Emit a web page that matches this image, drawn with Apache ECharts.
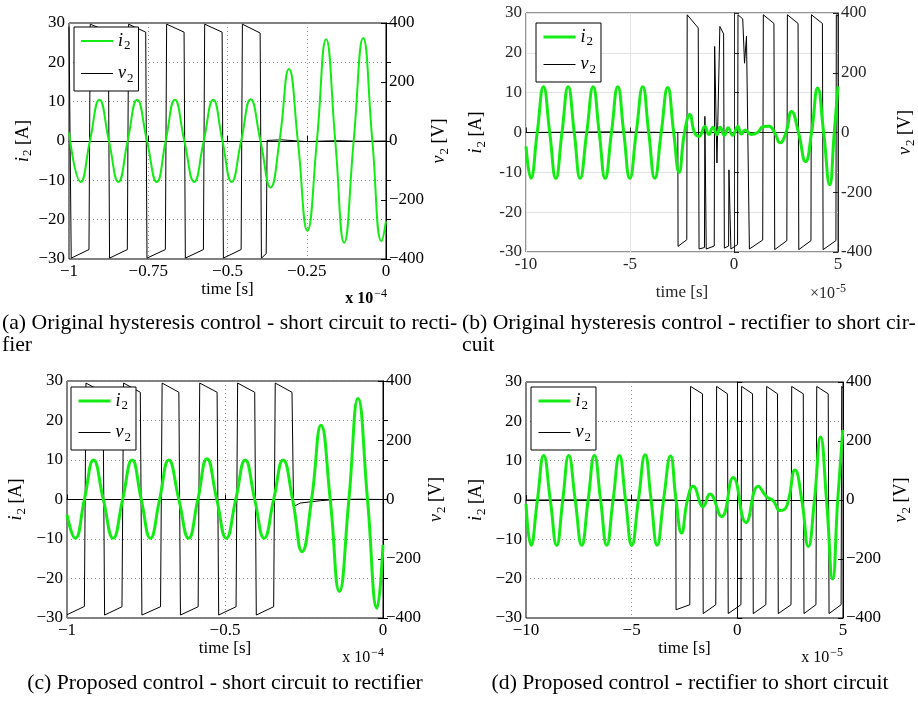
<!DOCTYPE html>
<html>
<head>
<meta charset="utf-8">
<script src="https://cdn.jsdelivr.net/npm/echarts@6/dist/echarts.min.js"></script>
<style>
  html, body { margin: 0; padding: 0; background: #fff; }
  #chart { width: 918px; height: 702px; }
</style>
</head>
<body>
<div id="chart"></div>
<script>
// (a) original hysteresis control - short circuit to rectifier (time x 1e-4 s)
const currentA = [
  [-1.0, 2.2], [-0.963, -10.4], [-0.934, 0], [-0.904, 10.5], [-0.874, 0],
  [-0.844, -10.4], [-0.815, 0], [-0.785, 10.5], [-0.754, 0], [-0.723, -10.4],
  [-0.695, 0], [-0.666, 10.5], [-0.636, 0], [-0.605, -10.4], [-0.575, 0],
  [-0.545, 10.5], [-0.516, 0], [-0.487, -10.4], [-0.457, 0], [-0.427, 10.6],
  [-0.396, 0], [-0.364, -11.8], [-0.336, 0], [-0.306, 18.3], [-0.278, 0],
  [-0.248, -22.8], [-0.218, 0], [-0.189, 25.9], [-0.16, 0], [-0.132, -25.9],
  [-0.102, 0], [-0.072, 26.2], [-0.043, 0], [-0.014, -25.5], [0, -20.4]
];
const voltageA = [
  [-1.0, 388], [-0.996, 384], [-0.993, -397], [-0.937, -368], [-0.933, 396],
  [-0.876, 371], [-0.872, -397], [-0.816, -368], [-0.812, 396], [-0.758, 369],
  [-0.754, -397], [-0.696, -368], [-0.692, 396], [-0.637, 369], [-0.633, -397],
  [-0.576, -368], [-0.572, 396], [-0.517, 369], [-0.513, -397], [-0.457, -368],
  [-0.453, 396], [-0.397, 366], [-0.393, -397], [-0.378, -382], [-0.375, 2],
  [-0.33, 4], [-0.25, -2], [-0.16, 1], [-0.08, -1], [0, 0]
];

// (b) original hysteresis control - rectifier to short circuit (time x 1e-5 s)
const currentB = [
  [-10, -3.5], [-9.766, -11.5], [-9.46, 0], [-9.158, 11.5], [-8.86, 0],
  [-8.565, -11.5], [-8.27, 0], [-7.973, 11.5], [-7.68, 0], [-7.396, -11.5],
  [-7.08, 0], [-6.772, 11.5], [-6.48, 0], [-6.195, -11.5], [-5.89, 0],
  [-5.587, 11.5], [-5.3, 0], [-5.01, -11.5], [-4.7, 0], [-4.386, 11.5],
  [-4.1, 0], [-3.809, -11.5], [-3.5, 0], [-3.186, 11.3], [-2.9, 0],
  [-2.64, -10], [-2.38, 0], [-2.12, 4.5], [-1.9, 0], [-1.68, -1],
  [-1.4, 1.5], [-1.21, -0.5], [-1.01, 1.3], [-0.82, -0.5], [-0.665, 1.3],
  [-0.463, -0.7], [-0.28, 1.2], [-0.07, -0.7], [0.19, 1.5], [0.35, -0.4],
  [0.54, 0.6], [0.82, -0.5], [1.13, 0], [1.41, 1.5], [1.68, 1.6],
  [1.95, 0], [2.22, -2.6], [2.5, 0], [2.77, 5.3], [3.1, 0],
  [3.44, -7.3], [3.73, 0], [4.02, 11.2], [4.31, 0], [4.6, -13.1],
  [4.82, 0], [5, 11.6]
];
const voltageB = [
  [-10, 0], [-6, 2], [-2.7, 0], [-2.69, -381], [-2.27, -359], [-2.25, 394],
  [-1.72, 350], [-1.68, -390], [-1.42, -385], [-1.4, 54], [-1.335, -390],
  [-0.95, -380], [-0.93, 288], [-0.82, -102], [-0.68, 355], [-0.5, 330],
  [-0.463, -387], [-0.26, -380], [-0.243, -125], [-0.15, -390], [0.17, -375],
  [0.192, 394], [0.42, 380], [0.506, 232], [0.6, 322], [0.74, -390],
  [1.38, -360], [1.41, 394], [1.92, 365], [1.958, -392], [2.54, -362],
  [2.567, 394], [3.08, 365], [3.115, -392], [3.7, -362], [3.723, 394],
  [4.25, 365], [4.285, -392], [4.9, -362], [4.92, 394], [5, 390]
];

// (c) proposed control - short circuit to rectifier (time x 1e-4 s)
const currentC = [
  [-1.0, -3.9], [-0.974, -9.8], [-0.945, 0], [-0.916, 10], [-0.885, 0],
  [-0.854, -9.8], [-0.824, 0], [-0.794, 10], [-0.765, 0], [-0.736, -9.8],
  [-0.707, 0], [-0.678, 10], [-0.646, 0], [-0.615, -9.8], [-0.586, 0],
  [-0.557, 10.3], [-0.526, 0], [-0.496, -9.8], [-0.466, 0], [-0.436, 10],
  [-0.406, 0], [-0.376, -9.8], [-0.346, 0], [-0.316, 10], [-0.286, 0],
  [-0.256, -13.2], [-0.226, 0], [-0.196, 18.8], [-0.167, 0], [-0.138, -23.3],
  [-0.108, 0], [-0.079, 25.6], [-0.049, 0], [-0.019, -27.5], [0, -11.5]
];
const voltageC = [
  [-1.0, -389], [-0.945, -361], [-0.94, 393], [-0.886, 362], [-0.881, -390],
  [-0.826, -362], [-0.821, 393], [-0.768, 362], [-0.763, -390], [-0.704, -362],
  [-0.699, 393], [-0.646, 362], [-0.641, -390], [-0.585, -362], [-0.58, 393],
  [-0.525, 362], [-0.52, -390], [-0.465, -362], [-0.46, 393], [-0.406, 362],
  [-0.401, -390], [-0.346, -362], [-0.341, 393], [-0.288, 362], [-0.283, -24],
  [-0.262, -12], [-0.198, -4], [-0.15, 0], [-0.07, 1], [0, 0]
];

// (d) proposed control - rectifier to short circuit (time x 1e-5 s)
const currentD = [
  [-10, -1], [-9.763, -11.5], [-9.46, 0], [-9.163, 11.3], [-8.85, 0],
  [-8.547, -11.5], [-8.26, 0], [-7.979, 11.3], [-7.67, 0], [-7.363, -11.5],
  [-7.06, 0], [-6.763, 11.3], [-6.47, 0], [-6.179, -11.5], [-5.88, 0],
  [-5.579, 11.3], [-5.29, 0], [-4.995, -11.5], [-4.68, 0], [-4.363, 11.5],
  [-4.08, 0], [-3.794, -11.5], [-3.49, 0], [-3.16, 11.2], [-2.9, 0],
  [-2.64, -8.4], [-2.36, 0], [-2.09, 3.5], [-1.615, -1.7], [-1.3, 1.5],
  [-0.744, -4.2], [-0.194, 5.7], [0.41, -5.7], [0.99, 3.5], [1.39, 0.8],
  [1.7, -0.2], [2.02, -2.7], [2.34, -1.5], [2.73, 7.6], [3.05, 0],
  [3.36, -11.8], [3.65, 0], [3.94, 16], [4.22, 0], [4.51, -20.1],
  [4.75, 0], [4.99, 17.8]
];
const voltageD = [
  [-10, 0], [-6, 1], [-2.91, 0], [-2.9, -372], [-2.25, -355], [-2.213, 385],
  [-1.65, 360], [-1.615, -385], [-1.02, -355], [-0.98, 385], [-0.47, 360],
  [-0.431, -385], [0.17, -355], [0.203, 385], [0.72, 360], [0.753, -385],
  [1.35, -355], [1.388, 385], [1.9, 360], [1.937, -385], [2.54, -355],
  [2.572, 385], [3.12, 360], [3.155, -385], [3.72, -355], [3.757, 385],
  [4.3, 360], [4.34, -385], [4.91, -355], [4.94, 385], [5, 380]
];

const captions = [
  "(a) Original hysteresis control - short circuit to recti-",
  "fier",
  "(b) Original hysteresis control - rectifier to short cir-",
  "cuit",
  "(c) Proposed control - short circuit to rectifier",
  "(d) Proposed control - rectifier to short circuit"
];

const serif = "Liberation Serif";
const green = "#14ea14";

const panels = [
  {
    current: currentA, voltage: voltageA,
    grid: { left: 69, top: 23, width: 317, height: 236 },
    x: [-1, 0, 0.25], minus: "\u2212", matlab2014: false,
    legend: { left: 74, top: 27, gap: 12 }, gaps: [33, 42, 22], lineWidth: 2,
    exp: { text: "{m|x 10}{e|\u22124}", x: 387, y: 299, bold: true },
  },
  {
    current: currentB, voltage: voltageB,
    grid: { left: 526, top: 13, width: 320, height: 239 },
    x: [-10, 5, 5], minus: "-", matlab2014: true,
    legend: { left: 536, top: 23, gap: 7 }, gaps: [38, 56, 32], lineWidth: 3,
    exp: { text: "{m|\u00d710}{e|-5}", x: 846, y: 294, bold: false },
  },
  {
    current: currentC, voltage: voltageC,
    grid: { left: 67, top: 381, width: 316, height: 237 },
    x: [-1, 0, 0.5], minus: "\u2212", matlab2014: false,
    legend: { left: 71, top: 387, gap: 11 }, gaps: [39, 42, 22], lineWidth: 3,
    exp: { text: "{m|x 10}{e|\u22124}", x: 384, y: 658, bold: false },
  },
  {
    current: currentD, voltage: voltageD,
    grid: { left: 526, top: 382, width: 317, height: 236 },
    x: [-10, 5, 5], minus: "\u2212", matlab2014: false,
    legend: { left: 531, top: 387, gap: 11 }, gaps: [38, 47, 22], lineWidth: 3,
    exp: { text: "{m|x 10}{e|\u22125}", x: 843, y: 658, bold: false },
  },
];

const nameRich = {
  it: { fontFamily: serif, fontStyle: "italic", fontSize: 18, color: "#000" },
  sub: { fontFamily: serif, fontSize: 13, color: "#000", padding: [10, 0, 0, 1] },
  txt: { fontFamily: serif, fontSize: 18, color: "#000" },
};

let grids = [];
let xAxes = [];
let yAxes = [];
let series = [];
let legends = [];
let graphics = [];

panels.forEach((p, k) => {
  const axisColor = p.matlab2014 ? "#262626" : "#000";
  const split = p.matlab2014
    ? { show: true, lineStyle: { color: "#e3e3e3", width: 1, type: "solid" } }
    : { show: true, lineStyle: { color: "#8a8a8a", width: 1, type: [1, 3] } };
  const fmt = (v) => String(v).replace("-", p.minus);
  const labelStyle = { fontFamily: serif, fontSize: 17, color: axisColor };

  grids.push(Object.assign({ show: true, borderColor: axisColor, borderWidth: 1, containLabel: false }, p.grid));

  xAxes.push({
    type: "value",
    gridIndex: k,
    min: p.x[0],
    max: p.x[1],
    interval: p.x[2],
    name: "time [s]",
    nameLocation: "middle",
    nameGap: p.gaps[2],
    nameTextStyle: { fontFamily: serif, fontSize: 17, color: axisColor },
    axisLine: { lineStyle: { color: axisColor } },
    axisTick: { inside: true, length: 5, lineStyle: { color: axisColor } },
    axisLabel: Object.assign({ formatter: fmt, margin: 4 }, labelStyle),
    splitLine: split,
  });

  yAxes.push({
    type: "value",
    gridIndex: k,
    position: "left",
    min: -30,
    max: 30,
    interval: 10,
    name: "{it|i}{sub|2}{txt| [A]}",
    nameLocation: "middle",
    nameRotate: 90,
    nameGap: p.gaps[0],
    nameTextStyle: { rich: nameRich },
    axisLine: { show: true, lineStyle: { color: axisColor } },
    axisTick: { show: true, inside: true, length: 5, lineStyle: { color: axisColor } },
    axisLabel: Object.assign({ formatter: fmt, margin: 4 }, labelStyle),
    splitLine: split,
  });
  yAxes.push({
    type: "value",
    gridIndex: k,
    position: "right",
    min: -400,
    max: 400,
    interval: 200,
    name: "{it|v}{sub|2}{txt| [V]}",
    nameLocation: "middle",
    nameRotate: 90,
    nameGap: p.gaps[1],
    nameTextStyle: { rich: nameRich },
    axisLine: { show: true, lineStyle: { color: axisColor } },
    axisTick: { show: true, inside: true, length: 5, lineStyle: { color: axisColor } },
    axisLabel: Object.assign({ formatter: fmt, margin: 3 }, labelStyle),
    splitLine: { show: false },
  });

  series.push({
    name: "v2",
    type: "line",
    xAxisIndex: k,
    yAxisIndex: 2 * k + 1,
    data: p.voltage,
    symbol: "none",
    lineStyle: { color: "#000", width: 1 },
    itemStyle: { color: "#000" },
    z: 2,
  });
  series.push({
    name: "i2",
    type: "line",
    xAxisIndex: k,
    yAxisIndex: 2 * k,
    data: p.current,
    symbol: "none",
    smooth: 0.5,
    lineStyle: { color: green, width: p.lineWidth },
    itemStyle: { color: green },
    z: 3,
  });

  legends.push({
    left: p.legend.left,
    top: p.legend.top,
    orient: "vertical",
    data: [
      { name: "i2", lineStyle: { color: green, width: p.lineWidth } },
      { name: "v2", lineStyle: { color: "#000", width: 1 } },
    ],
    selectedMode: false,
    backgroundColor: "#fff",
    borderColor: "#000",
    borderWidth: 1,
    borderRadius: 0,
    padding: [5, 5, 6, 6],
    itemWidth: 32,
    itemHeight: 14,
    itemGap: p.legend.gap,
    itemStyle: { opacity: 0 },
    formatter: (name) => (name === "i2" ? "{it|i}{sub|2}" : "{it|v}{sub|2}"),
    textStyle: { rich: nameRich },
  });

  graphics.push({
    type: "text",
    x: p.exp.x,
    y: p.exp.y,
    style: {
      text: p.exp.text,
      align: "right",
      verticalAlign: "middle",
      fill: axisColor,
      rich: {
        m: { fontFamily: serif, fontSize: 16, fontWeight: p.exp.bold ? "bold" : "normal", fill: axisColor },
        e: { fontFamily: serif, fontSize: 12, padding: [0, 0, 10, 1], fill: axisColor },
      },
    },
  });
});

const captionPos = [
  [2, 323], [2, 345], [462, 323], [462, 345], [225, 683], [690, 683]
];
captions.forEach((c, k) => {
  graphics.push({
    type: "text",
    x: captionPos[k][0],
    y: captionPos[k][1],
    style: {
      text: c,
      fontFamily: serif,
      fontSize: 21.7,
      fill: "#000",
      align: k >= 4 ? "center" : "left",
      verticalAlign: "middle",
    },
  });
});

let chart = echarts.init(document.getElementById("chart"), null, { renderer: "canvas" });
chart.setOption({
  animation: false,
  backgroundColor: "#fff",
  grid: grids,
  xAxis: xAxes,
  yAxis: yAxes,
  legend: legends,
  series: series,
  graphic: graphics,
});
</script>
</body>
</html>
